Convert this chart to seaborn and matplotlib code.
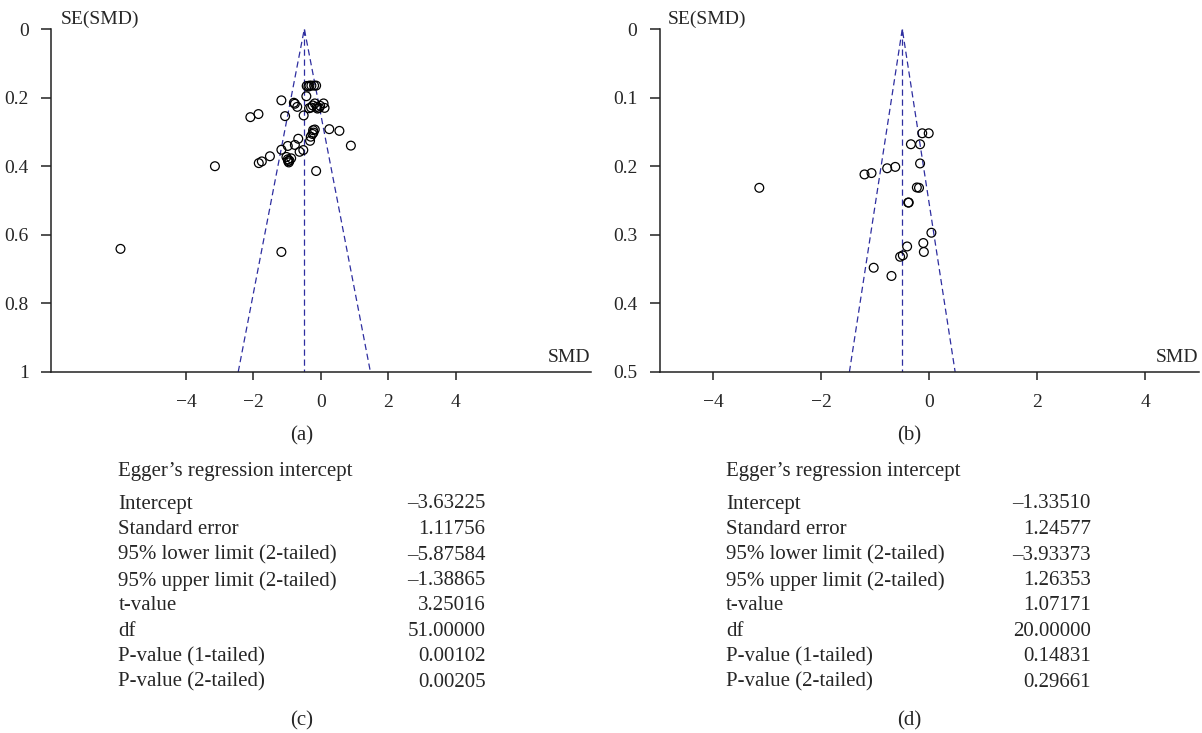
import numpy as np
import pandas as pd
import matplotlib
matplotlib.use("Agg")
import matplotlib.pyplot as plt
import seaborn as sns

# ---------------- data ----------------
smd_a = [-5.94, -1.17, -3.14, -0.14, 0.89, 0.55, 0.25, -2.09, -1.85, -1.17,
         -1.06, -0.51, -0.77, -0.70, -0.43, -0.42, -0.34, -0.28, -0.20, -0.14,
         -0.35, -0.29, -0.18, -0.12, -0.05, 0.08, 0.11, -0.23, -0.18, -0.22,
         -0.25, -0.30, -0.32, -0.67, -0.77, -0.98, -1.17, -0.52, -0.63, -1.51,
         -1.75, -1.84, -1.02, -0.98, -0.95, -0.88, -0.97, -0.93, -0.10, -0.24,
         -0.02, -0.37, -0.80]
se_a = [0.641, 0.650, 0.400, 0.414, 0.340, 0.297, 0.292, 0.257, 0.248, 0.208,
        0.254, 0.252, 0.218, 0.227, 0.196, 0.166, 0.165, 0.165, 0.165, 0.165,
        0.231, 0.229, 0.217, 0.227, 0.230, 0.217, 0.230, 0.295, 0.293, 0.302,
        0.306, 0.314, 0.326, 0.320, 0.338, 0.341, 0.352, 0.353, 0.358, 0.371,
        0.386, 0.391, 0.373, 0.380, 0.389, 0.377, 0.385, 0.384, 0.232, 0.223,
        0.224, 0.168, 0.215]

smd_b = [-3.15, -0.13, -0.01, -0.34, -0.17, -0.17, -0.63, -0.78, -1.07, -1.20,
         -0.23, -0.19, -0.39, -0.38, 0.04, -0.11, -0.10, -0.41, -0.49, -0.54,
         -1.03, -0.70]
se_b = [0.2315, 0.152, 0.152, 0.168, 0.168, 0.196, 0.201, 0.203, 0.210, 0.212,
        0.231, 0.2315, 0.253, 0.253, 0.297, 0.312, 0.325, 0.317, 0.330, 0.332,
        0.348, 0.360]

center_a = -0.49
center_b = -0.50

yticks_a = [0, 0.2, 0.4, 0.6, 0.8, 1]
yticklabels_a = ["0", "0.2", "0.4", "0.6", "0.8", "1"]
yticks_b = [0, 0.1, 0.2, 0.3, 0.4, 0.5]
yticklabels_b = ["0", "0.1", "0.2", "0.3", "0.4", "0.5"]
xticks = [-4, -2, 0, 2, 4]
xticklabels = ["\u22124", "\u22122", "0", "2", "4"]

table_labels = ["Intercept", "Standard error", "95% lower limit (2-tailed)",
                "95% upper limit (2-tailed)", "t-value", "df",
                "P-value (1-tailed)", "P-value (2-tailed)"]
table_c = ["\u20133.63225", "1.11756", "\u20135.87584", "\u20131.38865",
           "3.25016", "51.00000", "0.00102", "0.00205"]
table_d = ["\u20131.33510", "1.24577", "\u20133.93373", "1.26353",
           "1.07171", "20.00000", "0.14831", "0.29661"]
table_title = "Egger\u2019s regression intercept"

# ---------------- style ----------------
sns.set_theme(style="white")
plt.rcParams["font.family"] = ["Liberation Serif", "DejaVu Serif"]

W, H = 1202, 733
fig = plt.figure(figsize=(W / 100, H / 100), dpi=100)

def fx(px):
    return px / W

def fy(py):
    return 1 - py / H

TICK_FS = 14
TXT_FS = 15
FUNNEL_COLOR = "#2e2ea0"
AX_COLOR = "#222222"

def funnel_panel(rect, smd, se, center, xlim, ymax, yticks, yticklabels):
    ax = fig.add_axes(rect)
    df = pd.DataFrame({"SMD": smd, "SE": se})
    sns.scatterplot(data=df, x="SMD", y="SE", ax=ax, s=40, color="black",
                    edgecolor="black", linewidth=0.9, zorder=3, legend=False)
    ax.collections[-1].set_facecolor("none")
    # funnel lines
    ax.plot([center - 1.96 * ymax, center, center + 1.96 * ymax], [ymax, 0, ymax],
            ls=(0, (5, 3)), color=FUNNEL_COLOR, lw=0.9, zorder=2)
    ax.plot([center, center], [0, ymax], ls=(0, (5, 3)), color=FUNNEL_COLOR,
            lw=0.9, zorder=2)
    ax.set_xlim(*xlim)
    ax.set_ylim(ymax, 0)
    ax.set_xticks(xticks)
    ax.set_xticklabels(xticklabels)
    ax.set_yticks(yticks)
    ax.set_yticklabels(yticklabels)
    ax.set_xlabel("")
    ax.set_ylabel("")
    for s in ["top", "right"]:
        ax.spines[s].set_visible(False)
    for s in ["left", "bottom"]:
        ax.spines[s].set_color(AX_COLOR)
        ax.spines[s].set_linewidth(1.1)
    ax.tick_params(axis="x", direction="out", length=6, width=1.1,
                   color=AX_COLOR, pad=10, labelsize=TICK_FS, bottom=True)
    ax.tick_params(axis="y", direction="out", length=7, width=1.1,
                   color=AX_COLOR, pad=9, labelsize=TICK_FS, left=True)
    ax.set_facecolor("white")
    ax.grid(False)
    return ax

ax_a = funnel_panel([fx(51), fy(372), fx(590.7) - fx(51), fy(29) - fy(372)],
                    smd_a, se_a, center_a, (-8, 8), 1.0, yticks_a, yticklabels_a)
ax_b = funnel_panel([fx(659.5), fy(372), fx(1199) - fx(659.5), fy(29) - fy(372)],
                    smd_b, se_b, center_b, (-5, 5), 0.5, yticks_b, yticklabels_b)

# axis captions
fig.text(fx(61), fy(19), "SE(SMD)", fontsize=TICK_FS, ha="left", va="center")
fig.text(fx(668), fy(19), "SE(SMD)", fontsize=TICK_FS, ha="left", va="center")
fig.text(fx(590), fy(358), "SMD", fontsize=TICK_FS, ha="right", va="center")
fig.text(fx(1198), fy(358), "SMD", fontsize=TICK_FS, ha="right", va="center")

# panel letters
fig.text(fx(302), fy(436), "(a)", fontsize=TXT_FS, ha="center", va="center")
fig.text(fx(909), fy(436), "(b)", fontsize=TXT_FS, ha="center", va="center")
fig.text(fx(302), fy(721), "(c)", fontsize=TXT_FS, ha="center", va="center")
fig.text(fx(909), fy(721), "(d)", fontsize=TXT_FS, ha="center", va="center")

# tables
row_y = [504, 530, 555, 580.7, 606, 631, 656.7, 682.3]

def table(left, right, values):
    fig.text(fx(left), fy(471.7), table_title, fontsize=TXT_FS, ha="left", va="center")
    for lab, val, yy in zip(table_labels, values, row_y):
        fig.text(fx(left), fy(yy), lab, fontsize=TXT_FS, ha="left", va="center")
        fig.text(fx(right), fy(yy), val, fontsize=TXT_FS, ha="right", va="center")

table(118.5, 485.4, table_c)
table(725.8, 1091, table_d)

fig.savefig("out.png", dpi=100, facecolor="white")
